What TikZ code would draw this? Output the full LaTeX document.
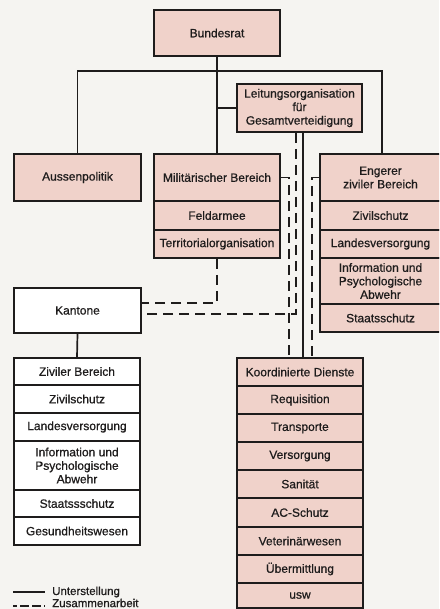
\documentclass[tikz,border=0pt]{standalone}
\usepackage{fontspec}
\setmainfont{Liberation Sans}[FakeBold=0.7]
\definecolor{pinkc}{RGB}{240,210,202}
\definecolor{paper}{RGB}{245,244,241}
\definecolor{inkc}{RGB}{30,28,28}
\tikzset{
  pbox/.style={draw=inkc, line width=1.8pt, fill=pinkc, inner sep=0pt, align=center,
    text=inkc, font=\fontsize{12pt}{13.5pt}\selectfont},
  wbox/.style={pbox, fill=white},
  sline/.style={draw=inkc, line width=1.7pt},
  dline/.style={draw=inkc, line width=1.6pt, dash pattern=on 10pt off 6pt},
  legtext/.style={anchor=west, inner sep=0pt, text=inkc, font=\fontsize{11.5pt}{13pt}\selectfont}
}
\begin{document}
\begin{tikzpicture}[x=1pt,y=-1pt]
\useasboundingbox (0,0) rectangle (439,609);
\clip (0,0) rectangle (439,609);
\fill[paper] (0,0) rectangle (439,609);

% top level
\node[pbox, minimum width=126pt, minimum height=46pt] (bund) at (217,33) {Bundesrat};
\node[pbox, minimum width=125pt, minimum height=48pt] (leit) at (299.5,108) {Leitungsorganisation\\für\\Gesamtverteidigung};

% second level
\node[pbox, minimum width=127pt, minimum height=47pt] (aussen) at (77.5,177.5) {Aussenpolitik};
\node[pbox, minimum width=126pt, minimum height=47pt] (milit) at (217,177.5) {Militärischer Bereich};
\node[pbox, minimum width=126pt, minimum height=29pt] (feld) at (217,215.5) {Feldarmee};
\node[pbox, minimum width=126pt, minimum height=28pt] (terr) at (217,244) {Territorialorganisation};

\node[pbox, minimum width=121pt, minimum height=47pt] (enger) at (380.5,177.5) {Engerer\\ziviler Bereich};
\node[pbox, minimum width=121pt, minimum height=29pt] (rzs) at (380.5,215.5) {Zivilschutz};
\node[pbox, minimum width=121pt, minimum height=28pt] (rlv) at (380.5,244) {Landesversorgung};
\node[pbox, minimum width=121pt, minimum height=46pt] (rinf) at (380.5,281) {Information und\\Psychologische\\Abwehr};
\node[pbox, minimum width=121pt, minimum height=28pt] (rst) at (380.5,318) {Staatsschutz};

% Kantone
\node[wbox, minimum width=127pt, minimum height=45pt] (kant) at (77.5,310.5) {Kantone};
\node[wbox, minimum width=126pt, minimum height=27pt] (lzb) at (77,371.5) {Ziviler Bereich};
\node[wbox, minimum width=126pt, minimum height=28pt] (lzs) at (77,399) {Zivilschutz};
\node[wbox, minimum width=126pt, minimum height=28pt] (llv) at (77,427) {Landesversorgung};
\node[wbox, minimum width=126pt, minimum height=49pt] (linf) at (77,465.5) {Information und\\Psychologische\\Abwehr};
\node[wbox, minimum width=126pt, minimum height=27pt] (lst) at (77,503.5) {Staatssschutz};
\node[wbox, minimum width=126pt, minimum height=28pt] (lgw) at (77,531) {Gesundheitswesen};

% Koordinierte Dienste
\node[pbox, minimum width=126pt, minimum height=28pt] (koord) at (300,372) {Koordinierte Dienste};
\node[pbox, minimum width=126pt, minimum height=28pt] (req) at (300,400) {Requisition};
\node[pbox, minimum width=126pt, minimum height=28pt] (trans) at (300,428) {Transporte};
\node[pbox, minimum width=126pt, minimum height=28pt] (vers) at (300,456) {Versorgung};
\node[pbox, minimum width=126pt, minimum height=28pt] (san) at (300,484) {Sanität};
\node[pbox, minimum width=126pt, minimum height=29pt] (ac) at (300,512.5) {AC-Schutz};
\node[pbox, minimum width=126pt, minimum height=28pt] (vet) at (300,541) {Veterinärwesen};
\node[pbox, minimum width=126pt, minimum height=28pt] (uem) at (300,569) {Übermittlung};
\node[pbox, minimum width=126pt, minimum height=25pt] (usw) at (300,595.5) {usw};

% solid connectors (Unterstellung)
\coordinate (jl) at (77.5,71);
\coordinate (jr) at (382,71);
\draw[sline] (bund.south) -- (milit.north);
\draw[sline] (aussen.north) -- (jl) -- (jr) -- (jr |- enger.north);
\draw[sline] (bund.south |- leit.west) -- (leit.west);
\draw[sline] (kant.south) -- (lzb.north);
\draw[sline] ([xshift=3.5pt]leit.south) -- ([xshift=3pt]koord.north);

% dashed connectors (Zusammenarbeit)
\draw[dline] (milit.east) -| ([xshift=-11pt]koord.north);
\draw[dline] (enger.west) -| ([xshift=12pt]koord.north);
\draw[dline] ([xshift=-3.5pt]leit.south) |- ([yshift=-3.5pt]kant.east);
\draw[dline] (terr.south) |- ([yshift=7.5pt]kant.east);

% legend
\coordinate (la1) at (13,592);
\coordinate (la2) at (45,592);
\coordinate (lb1) at (13,606);
\coordinate (lb2) at (45,606);
\draw[sline, line width=1.4pt] (la1) -- (la2);
\draw[dline, line width=1.4pt, dash pattern=on 4pt off 3pt on 9pt off 3pt on 9pt off 3pt] (lb1) -- (lb2);
\node[legtext] (leg1) at (52,592) {Unterstellung};
\node[legtext] (leg2) at (52,603) {Zusammenarbeit};
\end{tikzpicture}
\end{document}
